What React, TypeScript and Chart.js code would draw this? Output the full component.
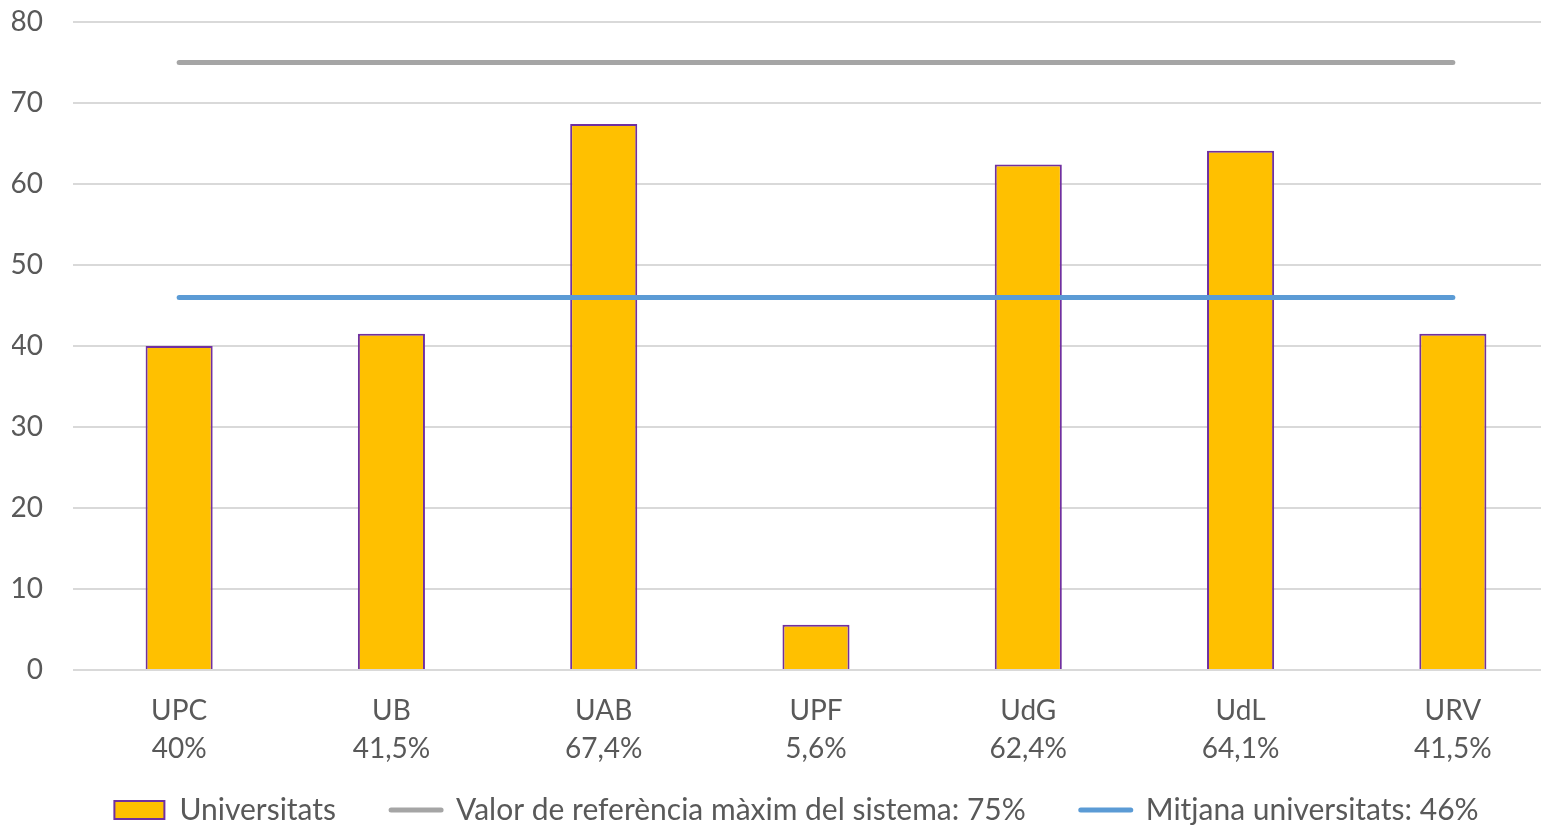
import React, { useEffect, useRef } from "react";
import { Chart, registerables } from "chart.js";

Chart.register(...registerables);

const categories = ["UPC", "UB", "UAB", "UPF", "UdG", "UdL", "URV"];
const percentLabels = ["40%", "41,5%", "67,4%", "5,6%", "62,4%", "64,1%", "41,5%"];
const universityValues = [40, 41.5, 67.4, 5.6, 62.4, 64.1, 41.5];
const referenceMax = [75, 75, 75, 75, 75, 75, 75];
const averageValues = [46, 46, 46, 46, 46, 46, 46];
const yTicks = [0, 10, 20, 30, 40, 50, 60, 70, 80];

const FONT = "Lato, 'Open Sans', sans-serif";
const TEXT = "#595959";

const legendShift = {
  id: "legendShift",
  afterLayout(chart: any) {
    const lg = chart.legend;
    if (!lg) return;
    const dx = 11;
    const dy = -26;
    lg.left += dx;
    lg.right += dx;
    lg.top += dy;
    lg.bottom += dy;
  },
};

export default function App() {
  const ref = useRef<HTMLCanvasElement | null>(null);
  useEffect(() => {
    if (!ref.current) return;
    const chart = new Chart(ref.current, {
      type: "bar",
      data: {
        labels: categories.map((c, i) => [c, percentLabels[i]]),
        datasets: [
          {
            type: "line",
            label: "Valor de referència màxim del sistema: 75%",
            data: referenceMax,
            borderColor: "#A5A5A5",
            backgroundColor: "#A5A5A5",
            borderWidth: 5,
            borderCapStyle: "round",
            pointRadius: 0,
            pointHoverRadius: 0,
            order: 1,
          },
          {
            type: "line",
            label: "Mitjana universitats: 46%",
            data: averageValues,
            borderColor: "#5B9BD5",
            backgroundColor: "#5B9BD5",
            borderWidth: 5,
            borderCapStyle: "round",
            pointRadius: 0,
            pointHoverRadius: 0,
            order: 0,
          },
          {
            type: "bar",
            label: "Universitats",
            data: universityValues,
            backgroundColor: "#FFC000",
            borderColor: "#7030A0",
            borderWidth: 2,
            borderSkipped: "bottom",
            categoryPercentage: 0.316,
            barPercentage: 1,
            order: 2,
          },
        ],
      },
      options: {
        animation: false,
        responsive: false,
        maintainAspectRatio: false,
        layout: { padding: { top: 22, right: 0, left: 12, bottom: -34 } },
        scales: {
          x: {
            grid: { display: false, drawTicks: false },
            border: { display: false },
            afterFit: (scale: any) => {
              scale.height = 96;
              scale.paddingLeft = 0;
              scale.paddingRight = 0;
            },
            ticks: {
              color: TEXT,
              font: { family: FONT, size: 28, lineHeight: 1.36 },
              padding: 22,
              maxRotation: 0,
              autoSkip: false,
            },
          },
          y: {
            min: 0,
            max: 80,
            afterBuildTicks: (axis: any) => {
              axis.ticks = yTicks.map((v) => ({ value: v }));
            },
            afterFit: (scale: any) => {
              scale.width = 61;
              scale.paddingTop = 0;
              scale.paddingBottom = 0;
            },
            grid: { color: "#D9D9D9", lineWidth: 2, drawTicks: false },
            border: { display: false },
            ticks: {
              color: TEXT,
              font: { family: FONT, size: 28 },
              padding: 30,
            },
          },
        },
        plugins: {
          tooltip: { enabled: false },
          legend: {
            position: "bottom",
            labels: {
              color: TEXT,
              font: { family: FONT, size: 30 },
              usePointStyle: true,
              pointStyleWidth: 50,
              boxWidth: 50,
              boxHeight: 18,
              padding: 55,
              generateLabels: (ch: any) => {
                const ds = ch.data.datasets;
                return [
                  {
                    text: ds[2].label,
                    fillStyle: "#FFC000",
                    strokeStyle: "#7030A0",
                    lineWidth: 2,
                    pointStyle: "rect",
                    fontColor: TEXT,
                    datasetIndex: 2,
                  },
                  {
                    text: ds[0].label,
                    fillStyle: "#A5A5A5",
                    strokeStyle: "#A5A5A5",
                    lineWidth: 5,
                    lineCap: "round",
                    pointStyle: "line",
                    fontColor: TEXT,
                    datasetIndex: 0,
                  },
                  {
                    text: ds[1].label,
                    fillStyle: "#5B9BD5",
                    strokeStyle: "#5B9BD5",
                    lineWidth: 5,
                    lineCap: "round",
                    pointStyle: "line",
                    fontColor: TEXT,
                    datasetIndex: 1,
                  },
                ];
              },
            },
          },
        },
      },
      plugins: [legendShift],
    } as any);
    return () => chart.destroy();
  }, []);
  return (
    <div style={{ position: "fixed", left: 0, top: 0, width: 1541, height: 827, background: "#fff", overflow: "hidden" }}>
      <canvas ref={ref} width={1559} height={827} style={{ display: "block" }} />
    </div>
  );
}
